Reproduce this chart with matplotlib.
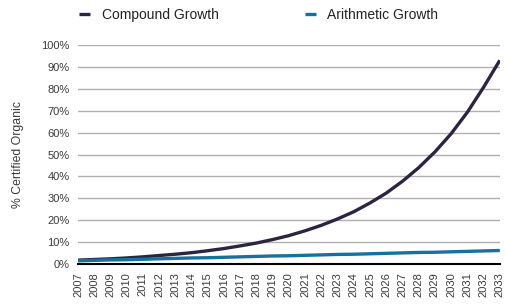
import matplotlib
matplotlib.use("Agg")
import matplotlib.pyplot as plt
from matplotlib.ticker import PercentFormatter

years = list(range(2007, 2034))
compound = [1.8, 2.1, 2.4, 2.8, 3.3, 3.9, 4.5, 5.2, 6.1, 7.1, 8.3, 9.6, 11.2, 13.0,
            15.2, 17.7, 20.6, 23.9, 27.9, 32.4, 37.8, 44.0, 51.2, 59.5, 69.3, 80.7, 93.0]
arithmetic = [1.5, 1.7, 1.9, 2.0, 2.2, 2.4, 2.6, 2.8, 2.9, 3.1, 3.3, 3.5, 3.7, 3.8,
              4.0, 4.2, 4.4, 4.5, 4.7, 4.9, 5.1, 5.3, 5.4, 5.6, 5.8, 6.0, 6.2]
y_ticks = list(range(0, 101, 10))

plt.rcParams["font.family"] = ["Liberation Sans", "DejaVu Sans"]

fig = plt.figure(figsize=(5.1, 3.06), dpi=100)
ax = fig.add_axes([0.153, 0.137, 0.827, 0.716])

ax.plot(years, compound, color="#2d2540", lw=2.4, label="Compound Growth",
        zorder=3, solid_capstyle="butt")
ax.plot(years, arithmetic, color="#17719e", lw=2.4, label="Arithmetic Growth",
        zorder=3, solid_capstyle="butt")

ax.set_xlim(2007, 2033)
ax.set_ylim(0, 100)
ax.set_yticks(y_ticks)
ax.yaxis.set_major_formatter(PercentFormatter(decimals=0))
ax.set_xticks(years)
ax.set_xticklabels([str(y) for y in years], rotation=90)
ax.tick_params(length=0, labelsize=8, colors="#3a3a3a", pad=6)
ax.grid(axis="y", color="#b0b0b0", lw=1)
ax.set_axisbelow(True)
for s in ["top", "right", "left"]:
    ax.spines[s].set_visible(False)
ax.spines["bottom"].set_color("black")
ax.spines["bottom"].set_linewidth(1.5)
ax.set_ylabel("% Certified Organic", fontsize=8.8, color="#3a3a3a")
ax.yaxis.set_label_coords(-0.128, 0.5)

ax.legend(ncol=2, loc="lower left", bbox_to_anchor=(-0.01, 1.08), frameon=False,
          fontsize=10, handlelength=0.8, handletextpad=0.8, columnspacing=6.25,
          borderaxespad=0, labelcolor="#222222")

fig.savefig("out.png", dpi=100)
